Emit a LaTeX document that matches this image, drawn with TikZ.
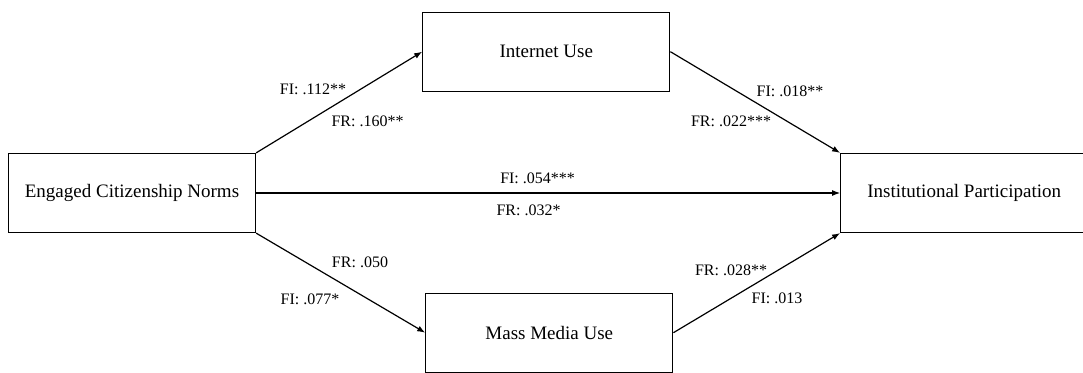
\documentclass[tikz,border=0pt]{standalone}
\usepackage{fontspec}
\setmainfont{Liberation Serif}
\usetikzlibrary{arrows.meta}
\begin{document}
\begin{tikzpicture}[x=1pt,y=-1pt,n/.style={rectangle,draw,line width=1.2pt,minimum width=247pt,minimum height=79pt,align=center,font=\fontsize{19}{23}\selectfont},e/.style={draw,line width=1.2pt,-{Latex[length=8pt,width=6pt]}},t/.style={rectangle,draw=none,inner sep=0pt,align=center,font=\fontsize{16}{19}\selectfont}]
\useasboundingbox (0,0) rectangle (1083,372);

\node[n] (ecn) at (132, 193) {Engaged Citizenship Norms};
\node[n] (iu) at (546.3, 51.7) {Internet Use};
\node[n] (mmu) at (549.3, 332.7) {Mass Media Use};
\node[n] (ip) at (964.2, 193) {Institutional Participation};
\path[e] (ecn.north east) -- (iu.west);
\path[e] (ecn.east) -- (ip.west);
\path[e] (ecn.south east) -- (mmu.west);
\path[e] (iu.east) -- (ip.north west);
\path[e] (mmu.east) -- (ip.south west);

\node[t] (iuFI) at (313, 89) {FI: .112**};
\node[t] (iuFR) at (367.6, 121) {FR: .160**};
\node[t] (ipFI) at (537.6, 178) {FI: .054***};
\node[t] (ipFR) at (528.5, 210.5) {FR: .032*};
\node[t] (mmuFR) at (360, 262.5) {FR: .050};
\node[t] (mmuFI) at (310, 299) {FI: .077*};
\node[t] (iuipFI) at (790, 91.5) {FI: .018**};
\node[t] (iuipFR) at (731, 121) {FR: .022***};
\node[t] (mmuipFR) at (731, 270) {FR: .028**};
\node[t] (mmuipFI) at (777, 298.5) {FI: .013};

\end{tikzpicture}
\end{document}
